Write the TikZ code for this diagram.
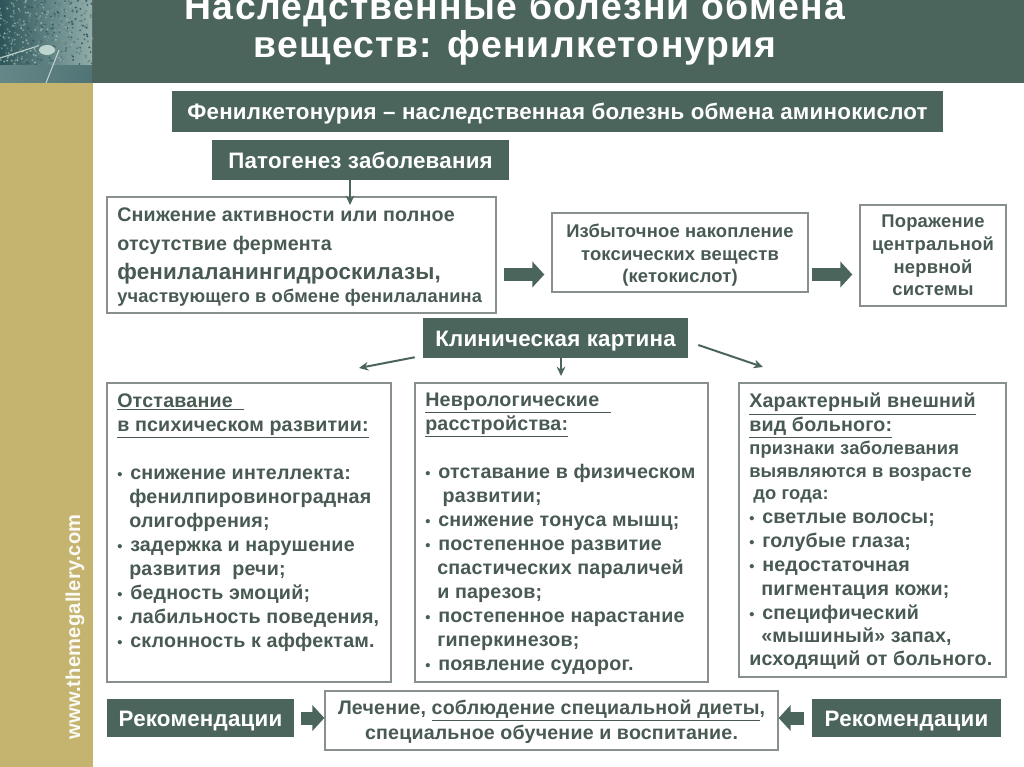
\documentclass[tikz,border=0pt]{standalone}
\usepackage{fontspec}
\setmainfont{Liberation Sans}[LetterSpace=1.0]
\newfontfamily\titlefont{Liberation Sans}[LetterSpace=3.5]
\usepackage{xcolor}
\usepackage{tikz}
\usetikzlibrary{arrows.meta}
\definecolor{darkgreen}{RGB}{76,101,92}
\definecolor{textgreen}{RGB}{72,90,82}
\definecolor{framegrey}{RGB}{136,144,140}
\definecolor{goldstrip}{RGB}{196,180,112}
\definecolor{photodark}{RGB}{44,84,88}
\definecolor{photopale}{RGB}{190,212,206}
\newcommand{\bul}{\makebox[9.75pt][l]{\fontsize{11}{11}\selectfont•}}
\newcommand{\dropline}[1]{\rule{0pt}{#1}}
\tikzset{
  darkbar/.style={fill=darkgreen,text=white,font=\fontsize{16.75}{20}\selectfont\bfseries,inner sep=0pt,minimum height=30pt,text height=12pt,text depth=0pt},
  framebox/.style={draw=framegrey,line width=1pt,fill=white,inner sep=0pt,text=textgreen,align=center,font=\fontsize{13.8}{17}\selectfont\bfseries},
  coltext/.style={anchor=north west,inner sep=0pt,text=textgreen,align=left,font=\fontsize{14.75}{18}\selectfont\bfseries},
  fatarrow/.style={draw=darkgreen,line width=9.75pt,-{Triangle[length=9pt,width=19pt]}},
  thinarrow/.style={draw=darkgreen,line width=1.5pt,-{Stealth[length=7pt,width=6.5pt]}}
}
\begin{document}
\begin{tikzpicture}[x=0.75pt,y=0.75pt,yscale=-1,xscale=1]
  \useasboundingbox (0,0) rectangle (1024,767);
  \fill [white] (0,0) rectangle (1024,767);
  %Header band and side strip
  \fill [darkgreen] (92,0) rectangle (1024,83);
  \fill [goldstrip] (0,83) rectangle (93,767);
  %Corner photo
  \fill [left color=photodark,right color=photopale!70!photodark] (0,0) rectangle (92,66);
  \pgfmathsetseed{7}
  \foreach \n in {1,...,420}{
    \pgfmathsetmacro{\px}{rnd*92}
    \pgfmathsetmacro{\py}{rnd*66}
    \pgfmathsetmacro{\pw}{rnd*75}
    \fill [photopale!\pw!photodark] (\px,\py) circle (1.1);
  }
  \fill [left color=photodark!60!photopale,right color=photodark!75!photopale] (0,66) rectangle (92,83);
  \fill [photopale] (47,50) ellipse (8 and 5);
  \draw [photopale,line width=0.8pt] (0,58) -- (38,46);
  \draw [photopale,line width=0.8pt] (46,83) -- (59,50);

  % Title
  \node (titleone) at (515,20) [anchor=base,text=white,font=\fontsize{28}{32}\selectfont\bfseries\titlefont] {Наследственные болезни обмена};
  \node (titletwo) at (515,58) [anchor=base,text=white,font=\fontsize{28}{32}\selectfont\bfseries\titlefont] {веществ: фенилкетонурия};
  % Watermark
  \node (site) at (75,627) [rotate=90,text=white!92!goldstrip,font=\fontsize{15.1}{17}\selectfont\bfseries] {www.themegallery.com};

  % Dark bars
  \node (defbar) at (557.5,111.5) [darkbar,minimum width=578.25pt] {Фенилкетонурия – наследственная болезнь обмена аминокислот};
  \node (pathbar) at (360.5,160) [darkbar,minimum width=222.75pt] {Патогенез заболевания};
  \node (clinicbar) at (555.5,338) [darkbar,minimum width=198.75pt] {Клиническая картина};
  \node (recleft) at (200.5,718) [darkbar,minimum width=140.25pt,minimum height=28.5pt] {Рекомендации};
  \node (recright) at (906.5,718) [darkbar,minimum width=141.75pt,minimum height=28.5pt] {Рекомендации};

  % Pathogenesis row
  \node (lackbox) at (301.5,255) [framebox,minimum width=291.75pt,minimum height=87pt] {};
  \node (lacktext) at (117,207.5) [coltext] {Снижение активности или полное\\[4pt]
    отсутствие фермента\\[3.5pt]
    {\fontsize{16.8}{18}\selectfont фенилаланингидроскилазы,}\\[-0.8pt]
    {\fontsize{13.7}{18}\selectfont участвующего в обмене фенилаланина}};
  \node (toxbox) at (680,252.5) [framebox,minimum width=192pt,minimum height=59.25pt] {\dropline{14.5pt}Избыточное накопление\\токсических веществ\\(кетокислот)};
  \node (cnsbox) at (933,255.5) [framebox,minimum width=109.5pt,minimum height=75.75pt] {Поражение\\центральной\\нервной\\системы};

  % Symptom columns
  \node (mentalbox) at (249,532.5) [framebox,minimum width=213pt,minimum height=224.25pt] {};
  \node (mentaltext) at (117,393) [coltext] {\underline{Отставание\ \ }\\
    \underline{в психическом развитии:}\\
    \\
    \bul снижение интеллекта:\\
    \hspace*{9pt}фенилпировиноградная\\
    \hspace*{9pt}олигофрения;\\
    \bul задержка и нарушение\\
    \hspace*{9pt}развития\ \ речи;\\
    \bul бедность эмоций;\\
    \bul лабильность поведения,\\
    \bul склонность к аффектам.};
  \node (neurobox) at (561.5,532.5) [framebox,minimum width=219.75pt,minimum height=224.25pt] {};
  \node (neurotext) at (425,393) [coltext] {\underline{Неврологические\ \ }\\
    \underline{расстройства:}\\
    \\
    \bul отставание в физическом\\
    \hspace*{13pt}развитии;\\
    \bul снижение тонуса мышц;\\
    \bul постепенное развитие\\
    \hspace*{9pt}спастических параличей\\
    \hspace*{9pt}и парезов;\\
    \bul постепенное нарастание\\
    \hspace*{9pt}гиперкинезов;\\
    \bul появление судорог.};
  \node (lookbox) at (872.5,530) [framebox,minimum width=200.25pt,minimum height=220.5pt] {};
  \node (looktext) at (749,393) [coltext] {\underline{Характерный внешний}\\
    \underline{вид больного:}\\[-1pt]
    {\fontsize{13.75}{17}\selectfont признаки заболевания}\\[-1pt]
    {\fontsize{13.75}{17}\selectfont выявляются в возрасте}\\[-1pt]
    {\fontsize{13.75}{17}\selectfont\hspace*{3pt}до года:}\\
    \bul светлые волосы;\\
    \bul голубые глаза;\\
    \bul недостаточная\\
    \hspace*{9pt}пигментация кожи;\\[-0.5pt]
    \bul специфический\\[-0.5pt]
    \hspace*{9pt}«мышиный» запах,\\[-0.5pt]
    исходящий от больного.};

  % Treatment
  \node (curebox) at (551.5,720.5) [framebox,minimum width=339.75pt,minimum height=44.25pt,font=\fontsize{14.7}{18.5}\selectfont\bfseries] {\dropline{13pt}Лечение, \underline{соблюдение специальной диеты},\\специальное обучение и воспитание.};

  % Connectors
  \coordinate (fatrow) at (0,274.5);
  \coordinate (lackin) at (350,205);
  \coordinate (leftend) at (359,368);
  \coordinate (midend) at (561,376);
  \coordinate (rightend) at (763,367);
  \draw [thinarrow,line width=2.2pt] (pathbar.south -| lackin) -- (lackin);
  \draw [fatarrow,shorten <=5.25pt,shorten >=5.25pt] (lackbox.east |- fatrow) -- (toxbox.west |- fatrow);
  \draw [fatarrow,shorten <=2.25pt,shorten >=5.25pt] (toxbox.east |- fatrow) -- (cnsbox.west |- fatrow);
  \draw [thinarrow] ([xshift=-6pt,yshift=-0.75pt]clinicbar.south west) -- (leftend);
  \draw [thinarrow] (clinicbar.south -| midend) -- (midend);
  \draw [thinarrow] ([xshift=7.5pt,yshift=5.25pt]clinicbar.east) -- (rightend);
  \draw [fatarrow,shorten <=5.25pt] (recleft.east) -- (curebox.west |- recleft);
  \draw [fatarrow,shorten <=6pt] (recright.west) -- (curebox.east |- recright);
\end{tikzpicture}
\end{document}
